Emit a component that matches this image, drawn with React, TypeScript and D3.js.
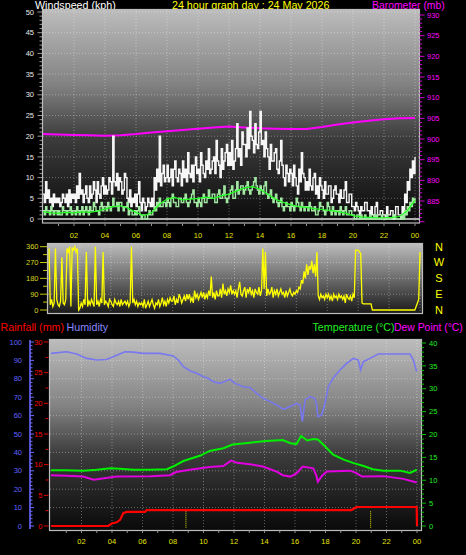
import React from "react";
import * as d3 from "d3";

// ---------- DATA ----------
const hourLabels = ["02", "04", "06", "08", "10", "12", "14", "16", "18", "20", "22", "00"];
const labelHours = [2, 4, 6, 8, 10, 12, 14, 16, 18, 20, 22, 24];
const windTicks = [0, 5, 10, 15, 20, 25, 30, 35, 40, 45, 50];
const baroTicks = [885, 890, 895, 900, 905, 910, 915, 920, 925, 930];
const dirTicks = [0, 90, 180, 270, 360];
const compass = ["N", "W", "S", "E", "N"];
const compassDeg = [360, 270, 180, 90, 0];
const humTicks = [0, 10, 20, 30, 40, 50, 60, 70, 80, 90, 100];
const rainTicks = [0, 5, 10, 15, 20, 25, 30];
const tempTicks = [0, 5, 10, 15, 20, 25, 30, 35, 40];

// wind gust (kph), one value every 5 minutes (12 per hour)
const gust = [
  6, 4, 9, 5, 7, 4, 5, 3, 6, 4, 5, 4,
  5, 3, 4, 6, 5, 4, 6, 3, 7, 4, 6, 5,
  6, 4, 8, 5, 11, 6, 7, 4, 6, 8, 5, 4,
  8, 5, 6, 9, 7, 4, 9, 6, 5, 8, 10, 6,
  8, 6, 7, 10, 9, 6, 20, 9, 8, 11, 7, 10,
  9, 6, 7, 11, 10, 5, 4, 7, 3, 5, 4, 6,
  3, 6, 9, 4, 2, 5, 4, 2, 3, 5, 4, 3,
  5, 3, 10, 7, 12, 9, 20, 8, 11, 13, 9, 10,
  13, 9, 10, 12, 8, 12, 14, 10, 9, 12, 11, 8,
  14, 10, 12, 9, 16, 11, 10, 13, 9, 13, 15, 11,
  12, 9, 16, 13, 11, 10, 14, 12, 17, 11, 12, 14,
  15, 11, 19, 14, 13, 10, 17, 12, 14, 16, 18, 13,
  16, 13, 19, 12, 14, 17, 23, 15, 17, 13, 21, 18,
  18, 15, 22, 17, 26, 20, 19, 16, 23, 18, 17, 21,
  26, 18, 19, 15, 21, 17, 15, 12, 18, 14, 14, 16,
  17, 12, 11, 14, 19, 13, 10, 8, 13, 11, 9, 12,
  11, 8, 13, 10, 8, 6, 12, 9, 16, 11, 10, 7,
  9, 7, 12, 8, 7, 10, 11, 6, 8, 5, 10, 8,
  7, 5, 9, 6, 6, 8, 8, 4, 5, 7, 8, 6,
  6, 4, 7, 5, 5, 7, 9, 4, 4, 6, 6, 3,
  3, 2, 4, 3, 2, 1, 3, 2, 2, 4, 4, 2,
  2, 1, 3, 1, 1, 3, 4, 1, 1, 2, 2, 1,
  1, 0, 3, 1, 1, 2, 2, 0, 1, 3, 3, 1,
  1, 0, 3, 1, 6, 4, 9, 7, 12, 10, 14, 11,
  15,
];
// average wind (kph), every 5 minutes
const avgWind = [
  2, 1, 3, 2, 2, 1, 3, 2, 1, 2, 2, 1,
  2, 1, 1, 3, 2, 2, 1, 2, 2, 3, 1, 2,
  2, 1, 3, 2, 1, 2, 3, 1, 2, 3, 2, 1,
  3, 2, 2, 4, 3, 2, 2, 1, 3, 4, 2, 3,
  3, 2, 4, 3, 2, 3, 5, 3, 3, 4, 2, 4,
  4, 3, 2, 3, 3, 4, 1, 2, 2, 1, 1, 2,
  1, 2, 3, 1, 0, 1, 1, 0, 0, 1, 2, 1,
  1, 2, 3, 2, 4, 3, 5, 3, 3, 4, 4, 3,
  5, 4, 3, 5, 6, 4, 4, 3, 3, 5, 5, 4,
  4, 5, 6, 4, 3, 4, 5, 6, 7, 4, 4, 3,
  5, 4, 3, 5, 6, 4, 4, 5, 7, 5, 5, 6,
  6, 4, 4, 6, 7, 5, 5, 6, 8, 5, 4, 5,
  6, 7, 8, 5, 5, 7, 9, 6, 7, 8, 8, 6,
  7, 8, 9, 7, 6, 7, 8, 9, 10, 8, 7, 6,
  8, 7, 6, 8, 9, 6, 5, 6, 7, 5, 4, 5,
  6, 4, 3, 4, 5, 3, 2, 3, 4, 3, 3, 2,
  4, 3, 2, 3, 5, 4, 3, 2, 4, 3, 2, 3,
  3, 2, 4, 3, 2, 2, 3, 1, 1, 2, 4, 3,
  3, 2, 1, 2, 4, 3, 2, 1, 3, 2, 1, 2,
  2, 1, 3, 2, 1, 2, 3, 1, 1, 2, 2, 1,
  1, 0, 0, 1, 1, 0, 1, 0, 0, 1, 0, 0,
  0, 1, 0, 0, 1, 0, 1, 0, 0, 0, 1, 0,
  0, 0, 1, 0, 0, 0, 0, 1, 1, 0, 0, 0,
  0, 0, 1, 0, 2, 1, 3, 2, 4, 3, 5, 4,
  5,
];
// smoothed average wind (kph), every 30 minutes
const smoothWind = [
  1.8, 1.5, 1.4, 1.6, 1.5, 1.7, 1.6, 1.9, 2.4, 3.0, 3.2, 2.6, 1.6, 0.8, 1.5, 3.5,
  4.8, 5.2, 4.6, 4.8, 5.0, 5.3, 5.0, 5.6, 6.0, 6.8, 7.5, 7.8, 7.2, 6.0, 4.8, 4.0,
  3.4, 3.0, 2.8, 2.5, 2.3, 2.1, 1.8, 1.4, 0.8, 0.5, 0.4, 0.3, 0.3, 0.4, 0.6, 2.0, 4.5,
];
// barometer (mb), hourly
const baro = [
  901.2, 901.1, 901.0, 900.9, 900.8, 900.9, 901.2, 901.6, 901.9, 902.2, 902.5, 902.8,
  903.0, 902.8, 902.6, 902.5, 902.4, 902.4, 902.9, 903.5, 904.0, 904.4, 904.8, 905.0, 905.1,
];
// wind direction (degrees), every 5 minutes
const windDir = [
  350, 30, 60, 20, 40, 350, 60, 30, 20, 50, 300, 40,
  30, 60, 350, 330, 360, 20, 355, 340, 360, 330, 350, 0,
  10, 40, 20, 60, 30, 330, 20, 50, 30, 60, 40, 20,
  360, 30, 50, 20, 60, 40, 330, 30, 50, 40, 20, 60,
  50, 30, 20, 60, 40, 30, 50, 20, 60, 30, 40, 50,
  30, 50, 20, 40, 360, 40, 60, 30, 50, 20, 40, 30,
  40, 20, 60, 10, 30, 50, 20, 40, 60, 30, 10, 40,
  30, 60, 20, 40, 70, 30, 50, 20, 60, 40, 70, 50,
  50, 80, 30, 60, 40, 90, 70, 40, 60, 80, 50, 90,
  60, 90, 50, 70, 40, 110, 70, 90, 60, 80, 100, 70,
  100, 60, 90, 70, 110, 80, 190, 70, 100, 60, 110, 80,
  80, 120, 70, 150, 90, 110, 80, 120, 100, 140, 90, 110,
  90, 110, 70, 120, 160, 90, 80, 110, 130, 70, 120, 100,
  130, 90, 110, 70, 120, 100, 90, 130, 80, 110, 350, 120,
  330, 80, 120, 90, 100, 130, 70, 110, 90, 120, 80, 100,
  120, 90, 100, 70, 110, 80, 100, 120, 90, 80, 100, 90,
  110, 100, 130, 120, 170, 150, 220, 180, 260, 200, 250, 230,
  280, 210, 260, 190, 330, 80, 60, 90, 70, 80, 60, 90,
  70, 90, 60, 80, 50, 90, 70, 80, 60, 90, 70, 80,
  60, 80, 40, 90, 70, 60, 80, 50, 90, 70, 340, 340,
  340, 330, 320, 40, 35, 35, 35, 35, 35, 35, 35, 0,
  0, 0, 0, 0, 0, 0, 0, 0, 0, 0, 0, 0,
  0, 0, 0, 0, 0, 0, 0, 0, 0, 0, 0, 0,
  0, 0, 0, 0, 0, 0, 0, 0, 0, 20, 40, 60,
  330,
];
// humidity (%)
const humHours = [
  0, 1.03, 1.68, 2.34, 3.0, 3.65, 4.31, 4.85, 5.4, 6.05, 7.15, 8.02, 8.35, 8.68, 9.11, 9.55,
  9.99, 10.3, 10.64, 11.08, 11.74, 12.07, 12.61, 13.05, 13.49, 13.92, 14.36, 14.8, 15.23,
  15.67, 16.1, 16.33, 16.48, 16.66, 16.98, 17.3, 17.42, 17.5, 17.75, 17.97, 18.18, 18.5,
  18.95, 19.39, 19.82, 20.15, 20.3, 20.48, 20.92, 21.46, 23.54, 23.76, 23.98,
];
const humVals = [
  93.8, 94.7, 93.5, 91.1, 90.2, 90.5, 92.8, 94.7, 94.5, 93.8, 93.8, 92.4, 90.2, 86.6, 84.4, 83.0,
  81.1, 80.3, 78.4, 77.5, 79.7, 77.5, 75.7, 75.3, 72.1, 69.4, 67.6, 65.8, 63.4,
  64.8, 66.7, 65.8, 56.7, 68.5, 70.3, 69.4, 65.8, 59.4, 60.3, 66.7, 75.7, 80.3,
  84.8, 88.4, 91.1, 90.2, 84.8, 89.3, 91.1, 93.5, 93.5, 90.2, 83.9,
];
// temperature (°C)
const tempHours = [
  0, 1.0, 2.1, 3.0, 3.9, 4.5, 5.4, 6.5, 7.6, 8.0, 8.68, 9.8, 10.4, 11.3, 11.9, 13.05, 14.1,
  15.2, 15.7, 16.1, 16.4, 16.8, 17.2, 17.5, 17.85, 18.5, 19.2, 19.8, 20.5, 21.1, 21.8, 22.9,
  23.54, 23.98,
];
const tempVals = [
  12.2, 12.2, 12.1, 12.3, 12.6, 12.5, 12.3, 12.3, 12.4, 13.0, 14.2, 15.4, 16.4, 17.0, 17.8,
  18.2, 18.6, 18.8, 18.1, 17.9, 19.7, 18.7, 19.0, 18.9, 17.8, 15.6, 14.5, 13.8, 13.1, 12.4,
  12.1, 12.1, 11.6, 12.3,
];
// dew point (°C)
const dewHours = [
  0, 1.0, 2.1, 2.8, 4.3, 6.5, 7.8, 8.2, 9.1, 10.4, 11.3, 11.8, 12.2, 13.05, 13.9, 14.8, 15.2,
  15.7, 16.1, 16.5, 17.2, 17.4, 17.5, 17.8, 18.1, 19.6, 20.0, 20.4, 21.8, 23.1, 23.98,
];
const dewVals = [
  11.1, 11.0, 10.8, 10.1, 10.8, 10.9, 11.1, 11.8, 12.3, 12.9, 13.1, 14.3, 13.8, 13.5, 13.0,
  11.9, 11.1, 10.8, 11.5, 13.0, 12.6, 11.0, 9.7, 11.1, 11.9, 12.1, 11.6, 10.8, 10.9, 10.3, 9.5,
];
// rainfall (mm), cumulative
const rainHours = [0, 3.76, 3.98, 4.31, 4.53, 4.74, 4.96, 6.16, 6.27, 19.7, 19.9, 20.05, 23.98, 24.0];
const rainVals = [0, 0, 0.4, 0.6, 1.0, 2.1, 2.3, 2.3, 2.6, 2.6, 2.9, 3.1, 3.1, 0];
// rain rate markers (hours)
const rateMarkHours = [8.85, 20.96];

// ---------- HELPERS ----------
const FONT = "'Liberation Sans', Arial, sans-serif";
const range = (a: number, b: number, s: number) => d3.range(a, b + s / 2, s);

function Panel({ x0, x1, y0, y1, id, xs, hLines }: any) {
  return (
    <g>
      <rect x={x0} y={y0} width={x1 - x0} height={y1 - y0} fill={`url(#${id})`} />
      {labelHours.map((h) => (
        <line key={"v" + h} x1={xs(h)} x2={xs(h)} y1={y0} y2={y1}
          stroke="rgba(255,255,255,0.34)" strokeDasharray="1 2" />
      ))}
      {hLines.map((y: number, i: number) => (
        <line key={"h" + i} x1={x0} x2={x1} y1={y} y2={y}
          stroke="rgba(255,255,255,0.34)" strokeDasharray="1 2" />
      ))}
    </g>
  );
}

export default function App() {
  const xTop = d3.scaleLinear().domain([0, 24]).range([43, 415]);
  const yWind = d3.scaleLinear().domain([0, 50]).range([219, 12]);
  const yBaro = d3.scaleLinear().domain([880, 930]).range([221.7, 15]);
  const xMid = d3.scaleLinear().domain([0, 24]).range([49, 420]);
  const yDir = d3.scaleLinear().domain([0, 360]).range([310, 246.7]);
  const xBot = d3.scaleLinear().domain([0, 24]).range([51, 417]);
  const yHum = d3.scaleLinear().domain([0, 100]).range([526, 342]);
  const yRain = d3.scaleLinear().domain([0, 30]).range([526, 342]);
  const yTemp = d3.scaleLinear().domain([0, 40]).range([526, 343]);

  const stepLine = (xs: any, ys: any, vals: number[], per: number) =>
    d3.line<number>().x((_, i) => xs(i / per)).y((v) => ys(v)).curve(d3.curveStepAfter)(vals) || "";
  const plainLine = (xs: any, ys: any, vals: number[], per: number) =>
    d3.line<number>().x((_, i) => xs(i / per)).y((v) => ys(v))(vals) || "";
  const xyLine = (xs: any, ys: any, hs: number[], vs: number[]) =>
    d3.line<number>().x((_, i) => xs(hs[i])).y((v) => ys(v))(vs) || "";

  const gustPath = stepLine(xTop, yWind, gust, 12);
  const avgPath = stepLine(xTop, yWind, avgWind, 12);
  const smoothPath = plainLine(xTop, yWind, smoothWind, 2);
  const baroPath = plainLine(xTop, yBaro, baro, 1);
  const dirPath = plainLine(xMid, yDir, windDir, 12);
  const humPath = xyLine(xBot, yHum, humHours, humVals);
  const tempPath = xyLine(xBot, yTemp, tempHours, tempVals);
  const dewPath = xyLine(xBot, yTemp, dewHours, dewVals);
  const rainPath = xyLine(xBot, yRain, rainHours, rainVals);

  const yellow = "#e4e400";

  return (
    <svg width={466} height={555} style={{ position: "absolute", left: 0, top: 0, fontFamily: FONT }}>
      <defs>
        <linearGradient id="gTop" x1="0" y1="0" x2="0" y2="1">
          <stop offset="0" stopColor="#bcbcbc" />
          <stop offset="0.35" stopColor="#828282" />
          <stop offset="0.6" stopColor="#3c3c3c" />
          <stop offset="1" stopColor="#0a0a0a" />
        </linearGradient>
        <linearGradient id="gMid" x1="0" y1="0" x2="0" y2="1">
          <stop offset="0" stopColor="#bcbcbc" />
          <stop offset="0.5" stopColor="#6c6c6c" />
          <stop offset="1" stopColor="#1a1a1a" />
        </linearGradient>
        <linearGradient id="gBot" x1="0" y1="0" x2="0" y2="1">
          <stop offset="0" stopColor="#bcbcbc" />
          <stop offset="0.35" stopColor="#828282" />
          <stop offset="0.6" stopColor="#3c3c3c" />
          <stop offset="1" stopColor="#0a0a0a" />
        </linearGradient>
      </defs>
      <rect x={0} y={0} width={466} height={555} fill="#000" />

      {/* ---------- TOP PANEL ---------- */}
      <text x={35} y={9.3} fill="#fff" fontSize={10.7}>Windspeed (kph)</text>
      <text x={172} y={9.3} fill="#ffff00" fontSize={10.7}>24 hour graph day : 24 May 2026</text>
      <text x={372} y={9.3} fill="#ff00ff" fontSize={10.4}>Barometer (mb)</text>

      <Panel x0={43} x1={419} y0={10} y1={223} id="gTop" xs={xTop}
        hLines={windTicks.slice(1).map((v) => yWind(v))} />
      <line x1={43} x2={419} y1={yWind(0)} y2={yWind(0)} stroke="#e6e6e6" strokeWidth={1.5} />
      <path d={baroPath} fill="none" stroke="#ff00ff" strokeWidth={2} />
      <path d={gustPath} fill="none" stroke="#f6f6f6" strokeWidth={1.4} />
      <path d={avgPath} fill="none" stroke="#a2e8a2" strokeWidth={1.4} />
      <path d={smoothPath} fill="none" stroke="#22ff22" strokeWidth={1.2} />
      <rect x={42.5} y={9.5} width={377} height={213.5} fill="none" stroke="#bdbdbd" strokeWidth={1.2} />

      {range(0, 50, 1).map((v) => (
        <line key={"wt" + v} x1={v % 5 === 0 ? 37.5 : 39.5} x2={42} y1={yWind(v)} y2={yWind(v)} stroke="#9a9a9a" />
      ))}
      {windTicks.map((v) => (
        <text key={"wl" + v} x={34} y={yWind(v)} dy="0.35em" textAnchor="end" fill="#e8e8e8" fontSize={7.5}>{v}</text>
      ))}
      {range(880, 930, 1).map((v) => (
        <line key={"bt" + v} x1={419.5} x2={v % 5 === 0 ? 424.5 : 422} y1={yBaro(v)} y2={yBaro(v)} stroke="#d000d0" />
      ))}
      {baroTicks.map((v) => (
        <text key={"bl" + v} x={427} y={yBaro(v)} dy="0.35em" fill="#ff00ff" fontSize={7.5}>{v}</text>
      ))}
      {range(1, 24, 1).map((h) => (
        <line key={"xt" + h} x1={xTop(h)} x2={xTop(h)} y1={223.5} y2={226} stroke="#909090" />
      ))}
      {labelHours.map((h, i) => (
        <text key={"xl" + h} x={xTop(h)} y={235} dy="0.35em" textAnchor="middle" fill={yellow} fontSize={7.5}>{hourLabels[i]}</text>
      ))}

      {/* ---------- MIDDLE PANEL ---------- */}
      <Panel x0={48} x1={422} y0={244} y1={313} id="gMid" xs={xMid}
        hLines={[90, 180, 270].map((v) => yDir(v))} />
      <path d={dirPath} fill="none" stroke="#ffff00" strokeWidth={1.3} />
      <rect x={47.5} y={243.5} width={375} height={70} fill="none" stroke="#bdbdbd" strokeWidth={1.2} />
      {range(0, 360, 45).map((v) => (
        <line key={"dt" + v} x1={v % 90 === 0 ? 40 : 43} x2={47} y1={yDir(v)} y2={yDir(v)} stroke="#c8c800" />
      ))}
      {dirTicks.map((v) => (
        <text key={"dl" + v} x={38.5} y={yDir(v)} dy="0.35em" textAnchor="end" fill="#d8d820" fontSize={7.5}>{v}</text>
      ))}
      {compass.map((c, i) => (
        <text key={"c" + i} x={439} y={yDir(compassDeg[i])} dy="0.36em" textAnchor="middle" fill="#ffff00" fontSize={11}>{c}</text>
      ))}

      {/* ---------- BOTTOM PANEL ---------- */}
      <text x={0.5} y={331} fill="#ff0000" fontSize={10.7}>Rainfall (mm)</text>
      <text x={66.5} y={331} fill="#8888ff" fontSize={10.7}>Humidity</text>
      <text x={312.5} y={331} fill="#22ee22" fontSize={10.7}>Temperature (°C)</text>
      <text x={394} y={331} fill="#ff00ff" fontSize={10.4}>Dew Point (°C)</text>

      <Panel x0={50} x1={421} y0={340} y1={530} id="gBot" xs={xBot}
        hLines={humTicks.slice(1, 10).map((v) => yHum(v))} />
      {rateMarkHours.map((h, i) => (
        <line key={"rm" + i} x1={xBot(h)} x2={xBot(h)} y1={yRain(2.4)} y2={528} stroke="#e8e800" strokeDasharray="1 1" />
      ))}
      <path d={humPath} fill="none" stroke="#7878f0" strokeWidth={1.6} />
      <path d={tempPath} fill="none" stroke="#00f000" strokeWidth={2} />
      <path d={dewPath} fill="none" stroke="#e000e0" strokeWidth={2} />
      <path d={rainPath} fill="none" stroke="#ff0000" strokeWidth={2.2} />
      <rect x={49.5} y={339.5} width={372} height={191} fill="none" stroke="#bdbdbd" strokeWidth={1.2} />

      <line x1={30} x2={30} y1={340} y2={529} stroke="#6a6aff" strokeWidth={1.6} />
      {range(0, 100, 2).map((v) => (
        <line key={"ht" + v} x1={30} x2={v % 10 === 0 ? 34 : 32.5} y1={yHum(v)} y2={yHum(v)} stroke="#6a6aff" />
      ))}
      {humTicks.map((v) => (
        <text key={"hl" + v} x={22} y={yHum(v)} dy="0.35em" textAnchor="end" fill="#6262ff" fontSize={7.5}>{v}</text>
      ))}
      {range(0, 30, 2.5).map((v) => (
        <line key={"rt" + v} x1={v % 5 === 0 ? 44 : 45.5} x2={48.5} y1={yRain(v)} y2={yRain(v)} stroke="#e00000" />
      ))}
      {rainTicks.map((v) => (
        <text key={"rl" + v} x={42.5} y={yRain(v)} dy="0.35em" textAnchor="end" fill="#ff0000" fontSize={7.5}>{v}</text>
      ))}
      {range(0, 40, 1).map((v) => (
        <line key={"tt" + v} x1={421.5} x2={v % 5 === 0 ? 426 : 424} y1={yTemp(v)} y2={yTemp(v)} stroke="#00c000" />
      ))}
      {tempTicks.map((v) => (
        <text key={"tl" + v} x={429} y={yTemp(v)} dy="0.35em" fill="#22ee22" fontSize={7.5}>{v}</text>
      ))}
      {range(1, 24, 1).map((h) => (
        <line key={"bxt" + h} x1={xBot(h)} x2={xBot(h)} y1={530.5} y2={533} stroke="#909090" />
      ))}
      {labelHours.map((h, i) => (
        <text key={"bxl" + h} x={xBot(h)} y={541} dy="0.35em" textAnchor="middle" fill={yellow} fontSize={7.5}>{hourLabels[i]}</text>
      ))}
    </svg>
  );
}
